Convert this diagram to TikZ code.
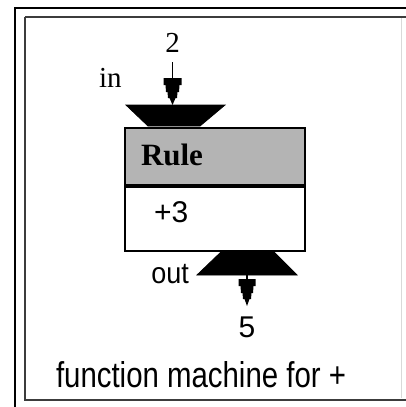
\documentclass[tikz,border=0pt]{standalone}
\usepackage{fontspec}
\setmainfont{Liberation Serif}
\setsansfont{Liberation Sans}
\definecolor{rulegray}{RGB}{180,180,180}
\definecolor{framegray}{RGB}{60,60,60}
\tikzset{
  lbl/.style={inner sep=0pt, outer sep=0pt},
  seriflbl/.style={lbl, font=\fontsize{29}{29}\selectfont},
  sanslbl/.style={lbl, font=\sffamily\fontsize{27}{27}\selectfont},
  funnel/.style={fill=black, draw=black, line width=0.8pt},
  spike/.style={fill=black, draw=none},
  stem/.style={line width=1.6pt},
}
\begin{document}
\begin{tikzpicture}[x=1pt, y=-1pt]
  \useasboundingbox (0,0) rectangle (406,407);
  \fill[white] (0,0) rectangle (406,407);

  % double frame
  \draw[line width=2pt] (15,410) -- (15,7.5) -- (410,7.5);
  \draw[line width=2pt, framegray] (25,16.5) -- (25,400) -- (410,400);
  \draw[line width=2pt, framegray] (25,16.5) -- (410,16.5);
  \draw[line width=1pt, black!15] (401,18) -- (401,398);

  % machine body: rule header and operation field
  \node[draw=black, line width=1.5pt, fill=rulegray, minimum width=180pt,
        minimum height=57pt, anchor=north west, inner sep=0pt] (rule) at (124,127) {};
  \node[draw=black, line width=1.5pt, fill=white, minimum width=180pt,
        minimum height=65pt, anchor=north west, inner sep=0pt] (op) at (124,185) {};
  \draw[line width=4pt] (rule.south west) -- (rule.south east);
  \node[lbl, anchor=base west, font=\bfseries\fontsize{31}{31}\selectfont] (rulelbl) at (141,165) {Rule};
  \node[lbl, anchor=base west, font=\sffamily\fontsize{30}{30}\selectfont] (oplbl) at (154,222) {+3};

  % input funnel and arrow
  \coordinate (inA) at (172.5,62);
  \coordinate (inB) at (172.5,78);
  \draw[funnel] (126,105) -- (225,105) -- (200,126) -- (148,126) -- cycle;
  \node[seriflbl, anchor=base] (two) at (172.5,52) {2};
  \node[seriflbl, anchor=base west] (inlbl) at (99,87) {in};
  \draw[stem] (inA) -- (inB);
  \fill[spike, shift={(inB)}] (-9,0) -- (9,0) -- (9,7) -- (7,7) -- (6.5,14)
        -- (5,14) -- (4.5,20) -- (3,20) -- (0,27) -- (-3,20) -- (-4.5,20)
        -- (-5,14) -- (-6.5,14) -- (-7,7) -- (-9,7) -- cycle;

  % output funnel and arrow
  \coordinate (outA) at (247,274);
  \coordinate (outB) at (247,279);
  \draw[funnel] (222,251) -- (273,251) -- (297,275) -- (197,275) -- cycle;
  \node[sanslbl, anchor=base east] (outlbl) at (189,283) {\scalebox{1}[1.1]{out}};
  \node[sanslbl, anchor=base, font=\sffamily\fontsize{30}{30}\selectfont] (five) at (247,337) {5};
  \draw[stem] (outA) -- (outB);
  \fill[spike, shift={(outB)}] (-8.5,0) -- (8.5,0) -- (8.5,7) -- (6.5,7) -- (6,14)
        -- (4.5,14) -- (4,20) -- (2.5,20) -- (0,27) -- (-2.5,20) -- (-4,20)
        -- (-4.5,14) -- (-6,14) -- (-6.5,7) -- (-8.5,7) -- cycle;

  % caption, set in a tall narrow sans
  \node[lbl, anchor=base west, font=\sffamily\fontsize{29.4}{29.4}\selectfont] (caption) at (56,387)
    {\scalebox{1}[1.22]{function machine for +}};
\end{tikzpicture}
\end{document}
